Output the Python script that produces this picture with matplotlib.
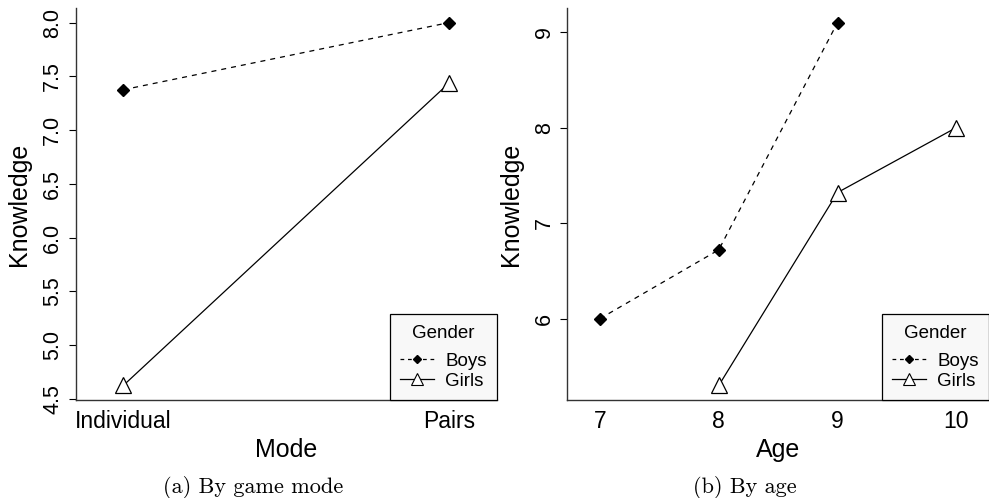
import matplotlib
matplotlib.use("Agg")
import matplotlib.pyplot as plt
from matplotlib.lines import Line2D

# (a) by game mode
modes = ["Individual", "Pairs"]
boys_mode = [7.375, 8.0]
girls_mode = [4.625, 7.44]

# (b) by age
ages = ["7", "8", "9", "10"]
boys_age = [6.0, 6.72, 9.1, None]
girls_age = [None, 5.3, 7.32, 8.0]

plt.rcParams["font.family"] = ["Liberation Sans", "DejaVu Sans"]

W, H = 989, 498
fig = plt.figure(figsize=(W / 100, H / 100), dpi=100)


def px_axes(x0, x1, y0, y1):
    return fig.add_axes([x0 / W, 1 - y1 / H, (x1 - x0) / W, (y1 - y0) / H])


def r_ylim(*series):
    # R pads the data range by 4% on each side
    vals = [v for s in series for v in s if v is not None]
    lo, hi = min(vals), max(vals)
    pad = 0.04 * (hi - lo)
    return lo - pad, hi + pad


def panel(ax, labels, boys, girls, xlim, yticks, ytickfmt, xlabel, caption):
    xs = list(range(1, len(labels) + 1))
    bx = [x for x, v in zip(xs, boys) if v is not None]
    by = [v for v in boys if v is not None]
    gx = [x for x, v in zip(xs, girls) if v is not None]
    gy = [v for v in girls if v is not None]
    ax.plot(bx, by, color="black", lw=0.9, ls=(0, (4, 4)), marker="D",
            ms=6.5, mfc="black", mec="black", zorder=3)
    ax.plot(gx, gy, color="black", lw=0.9, ls="-", marker="^",
            ms=12, mfc="white", mec="black", mew=0.9, zorder=3)
    ax.set_xlim(*xlim)
    ax.set_ylim(*r_ylim(boys, girls))
    ax.set_xticks(xs)
    ax.set_xticklabels(labels, fontsize=16.5)
    ax.tick_params(axis="x", length=0, pad=7)
    ax.set_yticks(yticks)
    ax.set_yticklabels([ytickfmt.format(t) for t in yticks], rotation=90,
                       va="center", fontsize=15.5)
    ax.tick_params(axis="y", length=5, width=0.8, pad=4)
    for s in ("top", "right"):
        ax.spines[s].set_visible(False)
    for s in ("left", "bottom"):
        ax.spines[s].set_linewidth(1.0)
        ax.spines[s].set_color("#333333")
    ax.set_xlabel(xlabel, fontsize=18, labelpad=4)
    ax.set_ylabel("Knowledge", fontsize=18, labelpad=8)
    handles = [
        Line2D([], [], color="black", lw=0.9, ls=(0, (3, 3)), marker="D",
               ms=4.5, mfc="black"),
        Line2D([], [], color="black", lw=0.9, ls="-", marker="^", ms=8,
               mfc="white", mew=0.8),
    ]
    leg = ax.legend(handles, ["Boys", "Girls"], title="Gender",
                    loc="lower right", bbox_to_anchor=(1.0, 0.0),
                    fontsize=13.5, title_fontsize=13.5, frameon=True,
                    fancybox=False, borderaxespad=0, handlelength=1.8,
                    handletextpad=0.6, labelspacing=0.15, borderpad=0.55)
    leg._legend_box.sep = 8  # extra gap under the title, like R's legend
    leg.get_frame().set_edgecolor("black")
    leg.get_frame().set_facecolor("#f8f8f8")
    leg.get_frame().set_linewidth(0.9)
    leg.get_frame().set_alpha(1)
    pos = ax.get_position()
    fig.text((pos.x0 + pos.x1) / 2 - 33 / W, 1 - 487 / H, caption,
             ha="center", va="center", fontsize=16, family="cmr10")


ax_a = px_axes(75.7, 497, 8, 400)
panel(ax_a, modes, boys_mode, girls_mode, (0.854, 2.146),
      [4.5, 5.0, 5.5, 6.0, 6.5, 7.0, 7.5, 8.0], "{:.1f}", "Mode",
      "(a) By game mode")

ax_b = px_axes(567.3, 989, 8, 400)
panel(ax_b, ages, boys_age, girls_age, (0.725, 4.275),
      [6, 7, 8, 9], "{:d}", "Age", "(b) By age")

fig.savefig("out.png", dpi=100)
